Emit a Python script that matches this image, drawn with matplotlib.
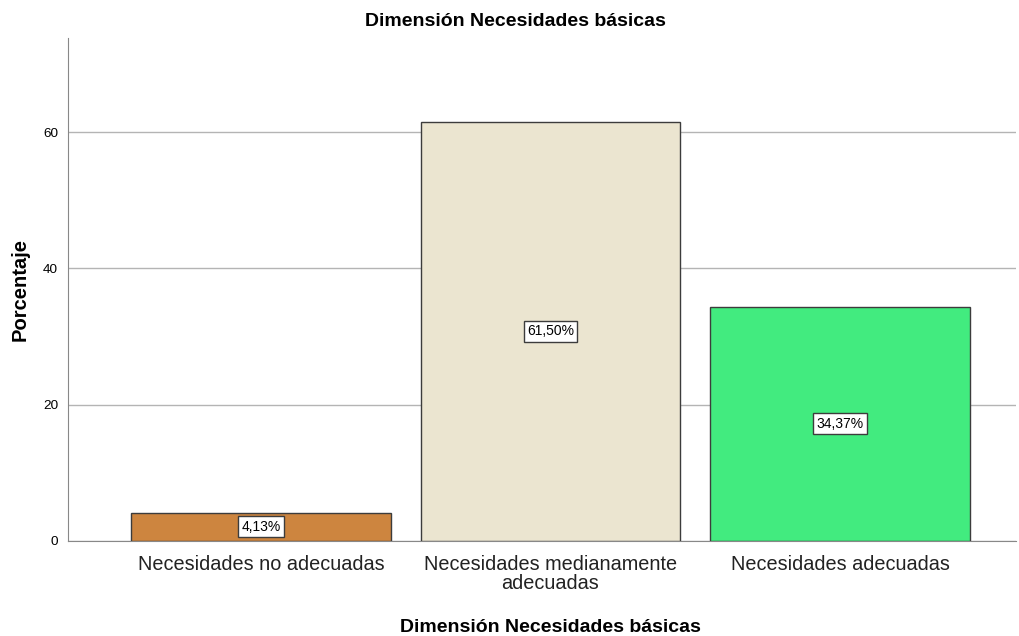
import matplotlib
matplotlib.use("Agg")
import matplotlib.pyplot as plt

plt.rcParams['font.family'] = ['Liberation Sans', 'DejaVu Sans']

categories = ['Necesidades no adecuadas',
              'Necesidades medianamente\nadecuadas',
              'Necesidades adecuadas']
percentages = [4.13, 61.50, 34.37]
value_labels = ['4,13%', '61,50%', '34,37%']
bar_colors = ['#CD853F', '#EBE5D0', '#42EB7F']
y_ticks = [0, 20, 40, 60]

fig = plt.figure(figsize=(10.19, 6.36), dpi=100)
ax = fig.add_axes([0.0667, 0.1494, 0.9303, 0.7906])

x = range(len(categories))
ax.bar(x, percentages, width=0.898, color=bar_colors,
       edgecolor='#3c3c3c', linewidth=1.0, zorder=3)

# value labels sit in the middle of each bar
for i, (v, lab) in enumerate(zip(percentages, value_labels)):
    ax.text(i, v / 2, lab, ha='center', va='center', fontsize=10, zorder=4,
            bbox=dict(boxstyle='square,pad=0.25', facecolor='white',
                      edgecolor='#3c3c3c', linewidth=1.0))

ax.set_xlim(-0.667, 2.608)
ax.set_ylim(0, 73.8)
ax.set_yticks(y_ticks)
ax.set_xticks(list(x))
ax.set_xticklabels(categories, fontsize=14.3, color='#222222', linespacing=1.0)
ax.tick_params(axis='y', labelsize=9.7, length=0, pad=7)
ax.tick_params(axis='x', length=0, pad=10)
ax.yaxis.grid(True, color='#b4b4b4', linewidth=1.0, zorder=0)

for side in ['top', 'right']:
    ax.spines[side].set_visible(False)
ax.spines['left'].set_color('#888888')
ax.spines['bottom'].set_color('#888888')

ax.set_ylabel('Porcentaje', fontsize=14.5, fontweight='bold', labelpad=10)
ax.set_xlabel('Dimensión Necesidades básicas', fontsize=14, fontweight='bold', labelpad=17)
ax.xaxis.set_label_coords(0.509, -0.155)
fig.text(515 / 1019, 1 - 22 / 636, 'Dimensión Necesidades básicas',
         ha='center', va='center', fontsize=14, fontweight='bold')

fig.savefig('out.png', dpi=100, facecolor='white')
